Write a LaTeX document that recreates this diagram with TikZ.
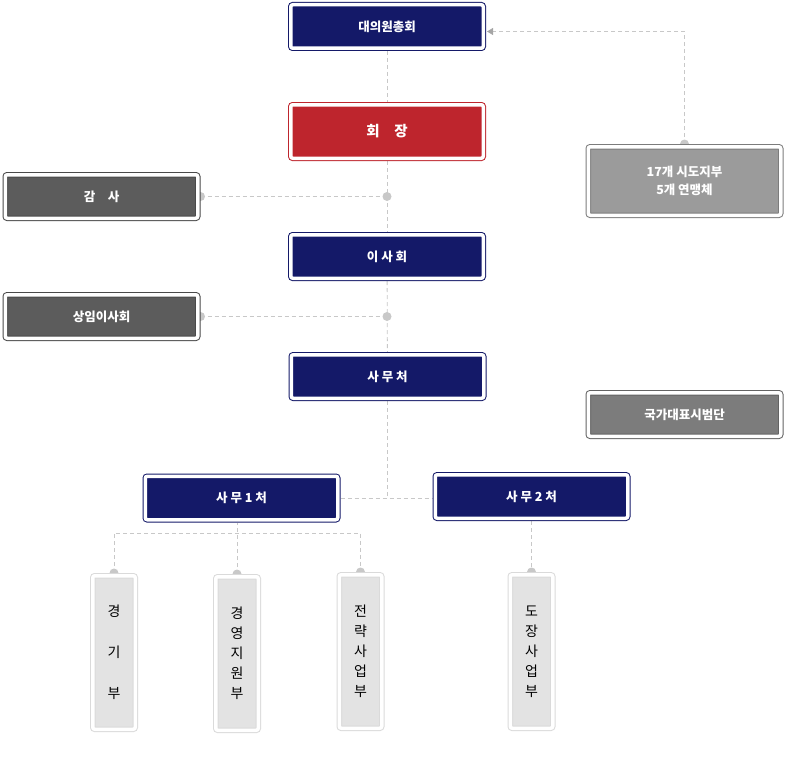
\documentclass[tikz,border=0pt]{standalone}
\usepackage{fontspec}
\setmainfont{Noto Sans CJK KR}
\usetikzlibrary{arrows.meta,backgrounds}
\definecolor{navy}{RGB}{20,25,104}
\definecolor{chief}{RGB}{190,37,45}
\definecolor{darkbox}{RGB}{92,92,92}
\definecolor{greybox}{RGB}{155,155,155}
\definecolor{midbox}{RGB}{124,124,124}
\definecolor{deptbox}{RGB}{227,227,227}
\definecolor{deptline}{RGB}{218,218,218}
\definecolor{linkgrey}{RGB}{200,200,200}
\definecolor{tipgrey}{RGB}{165,165,165}
\begin{document}
\begin{tikzpicture}[
		x=1pt, y=-1pt,
		box/.style={rectangle, rounded corners=2pt, line width=1pt, double=white, double distance=3.5pt,
			minimum width=192.5pt, minimum height=43.5pt, inner sep=0pt, outer sep=2.75pt,
			text=white, font=\bfseries\fontsize{12.5}{15}\selectfont},
		navybox/.style={box, draw=navy, fill=navy},
		greybox/.style={box, draw=#1!80!black, fill=#1, font=\bfseries\fontsize{12.5}{18}\selectfont, align=center},
		deptbox/.style={box, draw=deptline, fill=deptbox, text=black, minimum width=42.5pt,
			minimum height=153.5pt, align=center, font=\fontsize{14}{20}\selectfont},
		link/.style={draw=linkgrey, line width=0.8pt, dash pattern=on 4pt off 3pt},
		dot/.style={fill=linkgrey, circle, inner sep=0pt, minimum size=9pt}
		]
		\useasboundingbox (0,0) rectangle (787,760);
		\node[navybox] (general) at (387,26.5) {대의원총회};
		\node[box, draw=chief, fill=chief, minimum height=53.5pt, font=\bfseries\fontsize{14.5}{17}\selectfont] (president) at (387,131.5) {회\hspace{1em}장};
		\node[greybox=darkbox] (audit) at (101.5,196.5) {감\hspace{1em}사};
		\node[navybox] (board) at (387,256.5) {이 사 회};
		\node[greybox=darkbox] (standing) at (101.5,316.5) {상임이사회};
		\node[navybox] (office) at (387.5,376.5) {사 무 처};
		\node[greybox=greybox, minimum height=68.5pt] (branch) at (684.5,181) {17개 시도지부\\5개 연맹체};
		\node[greybox=midbox] (demo) at (684.5,414.5) {국가대표시범단};
		\node[navybox] (office1) at (241.5,498) {사 무 1 처};
		\node[navybox] (office2) at (531.5,496.5) {사 무 2 처};
		\node[deptbox] (game) at (114,652.5) {경\\[21pt]기\\[21pt]부};
		\node[deptbox] (manage) at (237,653.5) {경\\영\\지\\원\\부};
		\node[deptbox] (strategy) at (360.5,651.5) {전\\략\\사\\업\\부};
		\node[deptbox] (dojang) at (531.5,651.5) {도\\장\\사\\업\\부};
		\coordinate (split) at (237,533);
		\begin{scope}[on background layer]
			\draw[link] (general) -- (president);
			\draw[link] (president) -- (board);
			\draw[link] (board) -- (office);
			\draw[link] (office) -- (office.south |- office1.east);
			\draw[link] (audit.east) -- (audit.east -| general.south);
			\draw[link] (standing.east) -- (standing.east -| general.south);
			\draw[link] (office1.east) -- (office1.east -| office2.west);
			\draw[link, -{Triangle[width=7pt,length=6pt,color=tipgrey,sep=1pt]}] (branch.north) |- ([yshift=-5pt]general.east);
			\draw[link] (manage.north) -- (manage.north |- office1.south);
			\draw[link] (game.north) -- (game.north |- split) -- (strategy.north |- split) -- (strategy.north);
			\draw[link] (office2) -- (dojang);
			\foreach \n in {audit,standing}
			{
				\node[dot] at (\n.east) {};
				\node[dot] at (\n.east -| general.south) {};
			}
			\foreach \n in {branch,game,manage,strategy,dojang}
			\node[dot] at (\n.north) {};
		\end{scope}
	\end{tikzpicture}
\end{document}
